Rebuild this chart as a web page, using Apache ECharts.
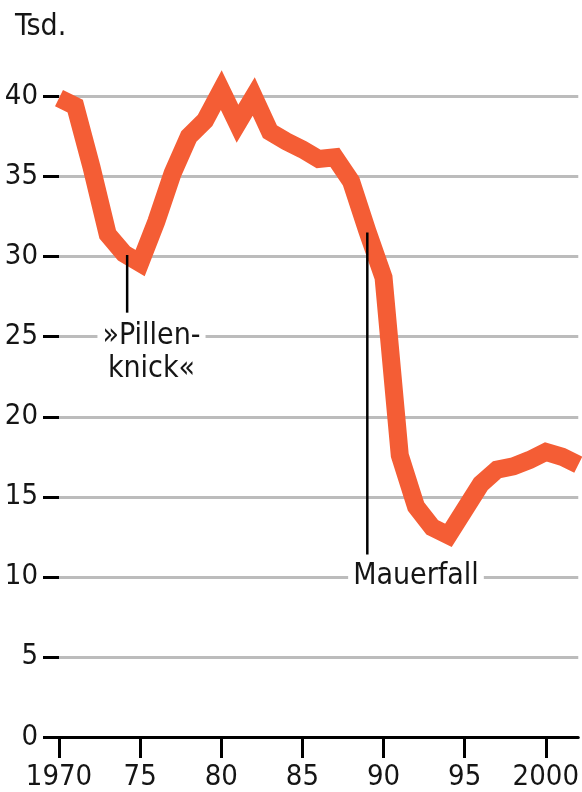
<!DOCTYPE html>
<html>
<head>
<meta charset="utf-8">
<script src="https://cdn.jsdelivr.net/npm/echarts@6/dist/echarts.min.js"></script>
<style>
  html, body { margin: 0; padding: 0; background: #ffffff; }
  #chart { width: 582px; height: 792px; }
</style>
</head>
<body>
<div id="chart"></div>
<script>
// Geburten pro Jahr, in Tausend
const years = [1970, 1971, 1972, 1973, 1974, 1975, 1976, 1977, 1978, 1979,
               1980, 1981, 1982, 1983, 1984, 1985, 1986, 1987, 1988, 1989,
               1990, 1991, 1992, 1993, 1994, 1995, 1996, 1997, 1998, 1999,
               2000, 2001, 2002];
const births = [39.9, 39.4, 35.6, 31.4, 30.2, 29.6, 32.2, 35.2, 37.5, 38.5,
                40.4, 38.3, 40.0, 37.8, 37.2, 36.7, 36.1, 36.2, 34.7, 31.6,
                28.7, 17.6, 14.4, 13.1, 12.6, 14.2, 15.8, 16.7, 16.9, 17.3,
                17.8, 17.5, 17.0];

// Achsen
const yearMin = 1970, yearMax = 2002, yearStep = 5;
const valueMin = 0, valueMax = 40, valueStep = 5;
const unitLabel = 'Tsd.';

// Anmerkungen: Jahr der Markierung, Linie von/bis (Tsd.), Textanker
const noteNames   = ['»Pillen-\nknick«', 'Mauerfall'];
const noteYears   = [1974.2, 1989.0];
const noteFrom    = [30.1, 31.5];
const noteTo      = [26.5, 11.4];
const noteTextAt  = [[1975.7, 24.0], [1992.0, 10.05]];

const FONT = '"DejaVu Sans Condensed", "DejaVu Sans", sans-serif';
const INK = '#151515';

const chart = echarts.init(document.getElementById('chart'), null, { renderer: 'canvas' });

const noteLineSeries = noteYears.map((yr, i) => ({
  type: 'line',
  data: [[yr, noteFrom[i]], [yr, noteTo[i]]],
  symbol: 'none',
  clip: false,
  silent: true,
  z: 5,
  lineStyle: { color: '#000', width: 2.5, opacity: 1 }
}));

const noteTextSeries = {
  type: 'scatter',
  data: noteTextAt.map((p, i) => ({ value: p, name: noteNames[i] })),
  symbolSize: 0,
  silent: true,
  z: 6,
  itemStyle: { opacity: 1 },
  label: {
    show: true,
    position: 'inside',
    formatter: p => p.name,
    fontFamily: FONT,
    fontSize: 30,
    lineHeight: 33,
    color: INK,
    opacity: 1,
    textBorderWidth: 0,
    align: 'center',
    verticalAlign: 'middle',
    backgroundColor: '#ffffff',
    padding: [0, 5]
  }
};

chart.setOption({
  animation: false,
  backgroundColor: '#ffffff',
  title: {
    text: unitLabel,
    left: 10,
    top: 7,
    textStyle: { fontFamily: FONT, fontSize: 30, fontWeight: 'normal', color: INK }
  },
  grid: { left: 59, right: 0, top: 96.5, bottom: 55, containLabel: false },
  xAxis: {
    type: 'value',
    min: yearMin,
    max: yearMax,
    interval: yearStep,
    axisLine: { show: true, onZero: false, lineStyle: { color: '#000', width: 3 } },
    axisTick: { show: true, length: 21, lineStyle: { color: '#000', width: 3 } },
    splitLine: { show: false },
    axisLabel: {
      margin: 26,
      fontFamily: FONT,
      fontSize: 29,
      color: INK,
      showMaxLabel: false,
      formatter: v => {
        if (v > 2000) return '';
        if (v === 1970 || v === 2000) return String(v);
        return String(v).slice(2);
      }
    }
  },
  yAxis: {
    type: 'value',
    min: valueMin,
    max: valueMax,
    interval: valueStep,
    axisLine: { show: false },
    axisTick: { show: true, length: 16, lineStyle: { color: '#000', width: 3 } },
    splitLine: {
      show: true,
      lineStyle: { color: '#bcbcbc', width: 3 }
    },
    axisLabel: {
      margin: 21,
      fontFamily: FONT,
      fontSize: 29,
      color: INK
    }
  },
  series: [
    {
      type: 'line',
      data: years.map((y, i) => [y, births[i]]),
      symbol: 'none',
      clip: false,
      z: 3,
      lineStyle: { color: '#f45d35', width: 18, join: 'miter', miterLimit: 2.5, cap: 'butt' }
    },
    ...noteLineSeries,
    noteTextSeries
  ]
});
</script>
</body>
</html>
